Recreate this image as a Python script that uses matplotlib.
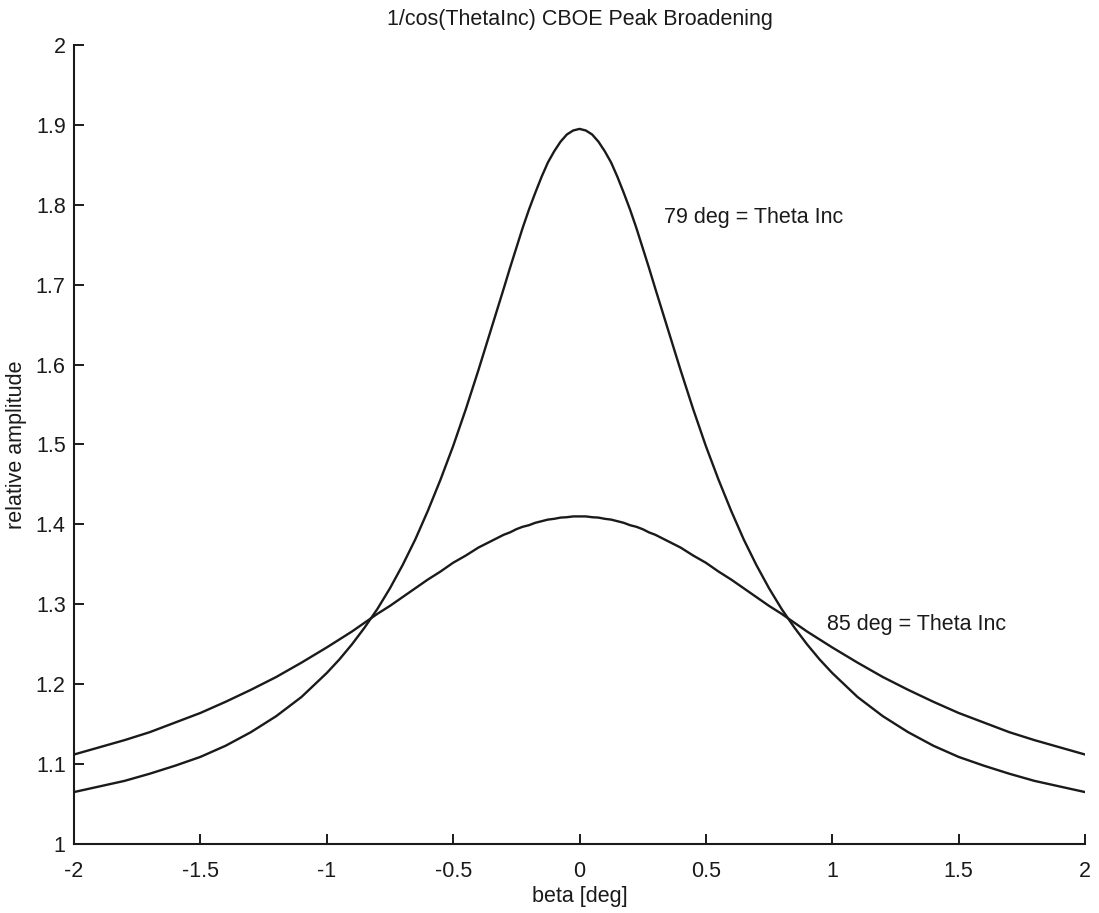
import matplotlib
matplotlib.use("Agg")
import matplotlib.pyplot as plt

plt.rcParams['font.family'] = ['Liberation Sans', 'DejaVu Sans']

beta = [-2.0, -1.9, -1.8, -1.7, -1.6, -1.5, -1.4, -1.3, -1.2, -1.1,
        -1.0, -0.95, -0.9, -0.85, -0.8, -0.75, -0.7, -0.65, -0.6, -0.55,
        -0.5, -0.45, -0.4, -0.35, -0.3, -0.275, -0.25, -0.225, -0.2, -0.175,
        -0.15, -0.125, -0.1, -0.075, -0.05, -0.025,
        0.0,
        0.025, 0.05, 0.075, 0.1, 0.125, 0.15, 0.175, 0.2, 0.225, 0.25,
        0.275, 0.3, 0.35, 0.4, 0.45, 0.5,
        0.55, 0.6, 0.65, 0.7, 0.75, 0.8, 0.85, 0.9, 0.95, 1.0,
        1.1, 1.2, 1.3, 1.4, 1.5, 1.6, 1.7, 1.8, 1.9, 2.0]

amp_79 = [1.065, 1.072, 1.079, 1.088, 1.098, 1.109, 1.123, 1.140, 1.160, 1.184,
          1.214, 1.231, 1.250, 1.271, 1.294, 1.320, 1.349, 1.381, 1.417, 1.456,
          1.498, 1.544, 1.593, 1.644, 1.695, 1.721, 1.746, 1.771, 1.794, 1.815,
          1.835, 1.853, 1.867, 1.879, 1.888, 1.893,
          1.895,
          1.893, 1.888, 1.879, 1.867, 1.853, 1.835, 1.815, 1.794, 1.771, 1.746,
          1.721, 1.695, 1.644, 1.593, 1.544, 1.498,
          1.456, 1.417, 1.381, 1.349, 1.320, 1.294, 1.271, 1.250, 1.231, 1.214,
          1.184, 1.160, 1.140, 1.123, 1.109, 1.098, 1.088, 1.079, 1.072, 1.065]

amp_85 = [1.112, 1.121, 1.130, 1.140, 1.152, 1.164, 1.178, 1.193, 1.209, 1.227,
          1.246, 1.256, 1.266, 1.277, 1.288, 1.298, 1.309, 1.320, 1.331, 1.341,
          1.352, 1.361, 1.371, 1.379, 1.387, 1.390, 1.394, 1.397, 1.399, 1.402,
          1.404, 1.406, 1.407, 1.4085, 1.409, 1.410,
          1.410,
          1.410, 1.409, 1.4085, 1.407, 1.406, 1.404, 1.402, 1.399, 1.397, 1.394,
          1.390, 1.387, 1.379, 1.371, 1.361, 1.352,
          1.341, 1.331, 1.320, 1.309, 1.298, 1.288, 1.277, 1.266, 1.256, 1.246,
          1.227, 1.209, 1.193, 1.178, 1.164, 1.152, 1.140, 1.130, 1.121, 1.112]

xticks = [-2, -1.5, -1, -0.5, 0, 0.5, 1, 1.5, 2]
xticklabels = ['-2', '-1.5', '-1', '-0.5', '0', '0.5', '1', '1.5', '2']
yticks = [1, 1.1, 1.2, 1.3, 1.4, 1.5, 1.6, 1.7, 1.8, 1.9, 2]
yticklabels = ['1', '1.1', '1.2', '1.3', '1.4', '1.5', '1.6', '1.7', '1.8', '1.9', '2']

FS = 15.5
INK = '#1a1a1a'

fig = plt.figure(figsize=(10.99, 9.13), dpi=100)
ax = fig.add_axes([74/1099, 1 - 844/913, (1085 - 74)/1099, (844 - 45)/913])

ax.plot(beta, amp_79, color=INK, lw=1.7, solid_joinstyle='round')
ax.plot(beta, amp_85, color=INK, lw=1.7, solid_joinstyle='round')

ax.set_xlim(-2, 2)
ax.set_ylim(1, 2)
ax.set_xticks(xticks)
ax.set_xticklabels(xticklabels)
ax.set_yticks(yticks)
ax.set_yticklabels(yticklabels)

for s in ['top', 'right']:
    ax.spines[s].set_visible(False)
for s in ['left', 'bottom']:
    ax.spines[s].set_linewidth(1.5)
    ax.spines[s].set_color(INK)

ax.tick_params(axis='both', direction='in', length=7, width=1.4,
               labelsize=FS, colors=INK)
ax.tick_params(axis='x', pad=12)
ax.tick_params(axis='y', pad=6)

ax.set_xlabel('beta [deg]', fontsize=FS, color=INK)
ax.xaxis.set_label_coords(0.5, -0.052)
ax.set_ylabel('relative amplitude', fontsize=FS, color=INK)
ax.yaxis.set_label_coords(-0.046, 0.5)

fig.text((74 + 1085) / 2 / 1099, 1 - 20 / 913, '1/cos(ThetaInc) CBOE Peak Broadening',
         ha='center', va='center', fontsize=FS, color=INK)

ax.text(0.335, 1.784, '79 deg = Theta Inc', fontsize=FS, va='center', ha='left', color=INK)
ax.text(0.978, 1.275, '85 deg = Theta Inc', fontsize=FS, va='center', ha='left', color=INK)

fig.savefig('out.png', dpi=100, facecolor='white')
